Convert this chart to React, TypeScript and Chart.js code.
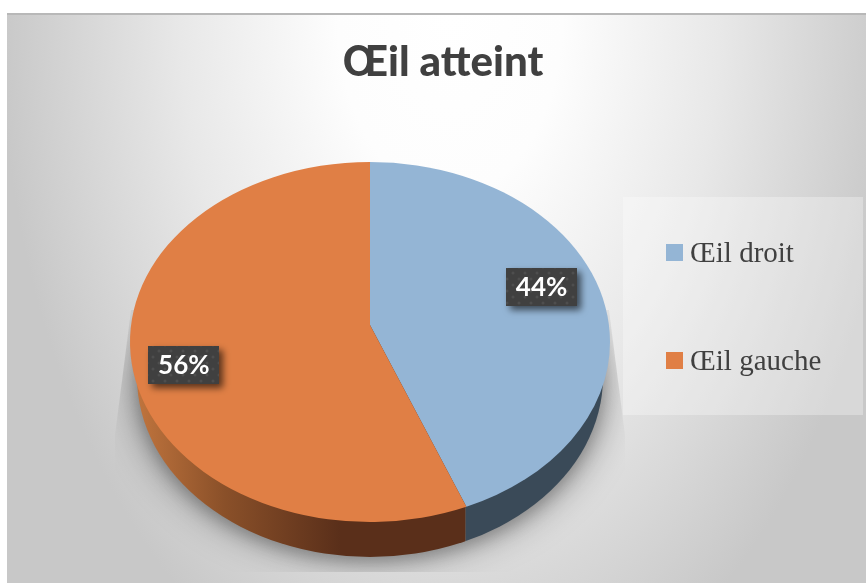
import React, { useEffect, useRef } from "react";
import { Chart, registerables } from "chart.js";

Chart.register(...registerables);

const categories = ["Œil droit", "Œil gauche"];
const values = [44, 56];
const sliceColors = ["#94B5D5", "#E07F45"];
const chartTitle = "Œil atteint";
const labelRadii = [0.71, 0.77];
const labelShift = [[7, -15], [-3, 14]];

const W = 866;
const H = 583;
const K = 0.0945;

function rimPoint(a: number, cx: number, apexY: number, rx: number) {
  const u = Math.cos(a);
  const v = Math.sin(a);
  const w = 1 - K * v;
  return { x: cx + (rx * 0.9954 * u) / w, y: apexY + (rx * 0.7433 * v) / w };
}

const pie3d = {
  id: "pie3d",
  afterLayout(chart: any) {
    chart.chartArea.left = 130;
    chart.chartArea.right = 610;
    chart.chartArea.top = 102;
    chart.chartArea.bottom = 582;
    chart.chartArea.width = 480;
    chart.chartArea.height = 480;
    const t = chart.titleBlock;
    t.left = 0;
    t.right = 886;
    t.top = 62 - 21;
    const l = chart.legend;
    l.left = 587;
    l.right = 866;
    l.top = 161;
    l.bottom = 460;
  },
  beforeDraw(chart: any) {
    const ctx = chart.ctx;
    ctx.save();
    ctx.fillStyle = "#ffffff";
    ctx.fillRect(0, 0, W, H);
    ctx.fillStyle = "#b8b8b8";
    ctx.fillRect(7, 13, W - 7, 3);
    ctx.beginPath();
    ctx.rect(7, 15, W - 7, H - 15);
    ctx.clip();
    ctx.translate(450, 15);
    ctx.scale(1, 1.6);
    const g = ctx.createRadialGradient(0, 0, 0, 0, 0, 450);
    g.addColorStop(0, "#ffffff");
    g.addColorStop(0.25, "#fdfdfd");
    g.addColorStop(0.6, "#e8e8e8");
    g.addColorStop(0.85, "#d4d4d4");
    g.addColorStop(1, "#c8c8c8");
    ctx.fillStyle = g;
    ctx.fillRect(-460, -20, 900, 420);
    ctx.restore();
    ctx.save();
    ctx.fillStyle = "rgba(255,255,255,0.3)";
    ctx.fillRect(623, 197, 240, 218);
    ctx.restore();
  },
  afterDraw(chart: any) {
    const ctx = chart.ctx;
    ctx.save();
    sliceColors.forEach((c, i) => {
      ctx.fillStyle = c;
      ctx.fillRect(666, 244 + i * 108, 17, 17);
    });
    ctx.restore();
  },
  beforeDatasetsDraw(chart: any) {
    const ctx = chart.ctx;
    const arcs = chart.getDatasetMeta(0).data;
    const { x: cx, y: cy, outerRadius: rx } = arcs[0];
    const ry = rx * 0.75;
    const apexY = cy - 17;
    const depth = 35;
    const bottomRx = rx - 7;
    const toEllipse = (a: number) => {
      const p = rimPoint(a, cx, apexY, rx);
      return Math.atan2((p.y - cy) / ry, (p.x - cx) / rx);
    };

    // cast shadow
    ctx.save();
    ctx.beginPath();
    ctx.moveTo(131, 310);
    ctx.lineTo(115, 435);
    ctx.lineTo(115, 572);
    ctx.lineTo(625, 572);
    ctx.lineTo(625, 435);
    ctx.lineTo(609, 310);
    ctx.closePath();
    ctx.clip();
    ctx.filter = "blur(16px)";
    ctx.fillStyle = "rgba(0,0,0,0.28)";
    ctx.beginPath();
    ctx.ellipse(cx, cy + depth + 6, rx + 2, ry + 2, 0, 0, Math.PI * 2);
    ctx.fill();
    ctx.filter = "blur(7px)";
    ctx.fillStyle = "rgba(0,0,0,0.2)";
    ctx.beginPath();
    ctx.ellipse(cx, cy + depth + 4, bottomRx + 2, ry + 2, 0, 0, Math.PI * 2);
    ctx.fill();
    ctx.restore();

    // side wall
    const split = rimPoint(arcs[0].endAngle, cx, apexY, rx).x;
    const sideY = cy + depth;
    ctx.save();
    ctx.beginPath();
    ctx.rect(split - 1, 300, 400, 300);
    ctx.clip();
    ctx.fillStyle = "#3A4A58";
    ctx.beginPath();
    ctx.ellipse(cx, sideY, bottomRx, ry, 0, 0, Math.PI * 2);
    ctx.fill();
    ctx.restore();
    ctx.save();
    ctx.beginPath();
    ctx.rect(0, 300, split - 1, 300);
    ctx.clip();
    const side = ctx.createLinearGradient(cx - rx, 0, cx - 30, 0);
    side.addColorStop(0, "#C4773F");
    side.addColorStop(0.45, "#8A5029");
    side.addColorStop(1, "#5A2F1A");
    ctx.fillStyle = side;
    ctx.beginPath();
    ctx.ellipse(cx, sideY, bottomRx, ry, 0, 0, Math.PI * 2);
    ctx.fill();
    ctx.restore();

    // top face
    arcs.forEach((arc: any, i: number) => {
      ctx.save();
      ctx.fillStyle = sliceColors[i];
      ctx.beginPath();
      ctx.moveTo(cx, apexY);
      ctx.ellipse(cx, cy, rx, ry, 0, toEllipse(arc.startAngle), toEllipse(arc.endAngle));
      ctx.closePath();
      ctx.fill();
      ctx.restore();
    });

    // data labels
    const tile = document.createElement("canvas");
    tile.width = 12;
    tile.height = 12;
    const tc = tile.getContext("2d")!;
    tc.fillStyle = "#404040";
    tc.fillRect(0, 0, 12, 12);
    tc.fillStyle = "#4e4e4e";
    [[3, 3], [9, 9]].forEach(([x, y]) => {
      tc.beginPath();
      tc.arc(x, y, 1.5, 0, Math.PI * 2);
      tc.fill();
    });
    const pattern = ctx.createPattern(tile, "repeat");
    const total = values.reduce((a, b) => a + b, 0);
    arcs.forEach((arc: any, i: number) => {
      const mid = (arc.startAngle + arc.endAngle) / 2;
      const u = Math.cos(mid) * labelRadii[i];
      const v = Math.sin(mid) * labelRadii[i];
      const w = 1 - K * v;
      const lx = cx + (rx * 0.9954 * u) / w + labelShift[i][0];
      const ly = apexY + (rx * 0.7433 * v) / w + labelShift[i][1];
      const bw = 71;
      const bh = 38;
      ctx.save();
      ctx.shadowColor = "rgba(0,0,0,0.6)";
      ctx.shadowBlur = 7;
      ctx.shadowOffsetX = 4;
      ctx.shadowOffsetY = 4;
      ctx.fillStyle = pattern;
      ctx.fillRect(Math.round(lx - bw / 2), Math.round(ly - bh / 2), bw, bh);
      ctx.restore();
      ctx.save();
      ctx.fillStyle = "#ffffff";
      ctx.font = "700 26px Lato";
      ctx.textAlign = "center";
      ctx.textBaseline = "middle";
      ctx.fillText(Math.round((values[i] / total) * 100) + "%", lx, ly + 1);
      ctx.restore();
    });
    return false;
  },
};

export default function App() {
  const ref = useRef<HTMLCanvasElement>(null);
  useEffect(() => {
    const chart = new Chart(ref.current!, {
      type: "pie",
      data: {
        labels: categories,
        datasets: [{ data: values, backgroundColor: sliceColors, borderWidth: 0 }],
      },
      options: {
        animation: false,
        responsive: false,
        events: [],
        plugins: {
          title: {
            display: true,
            text: chartTitle,
            color: "#404040",
            padding: 0,
            font: { family: "Lato", weight: "900", size: 42, lineHeight: 1 },
          },
          legend: {
            display: true,
            position: "right",
            align: "start",
            labels: {
              boxWidth: 9.5,
              boxHeight: 13,
              padding: 79,
              color: "#404040",
              font: { family: "Liberation Serif", size: 29 },
            },
          },
          tooltip: { enabled: false },
        },
      },
      plugins: [pie3d],
    } as any);
    return () => chart.destroy();
  }, []);
  return (
    <canvas
      ref={ref}
      width={W}
      height={H}
      style={{ position: "absolute", left: 0, top: 0, display: "block" }}
    />
  );
}
